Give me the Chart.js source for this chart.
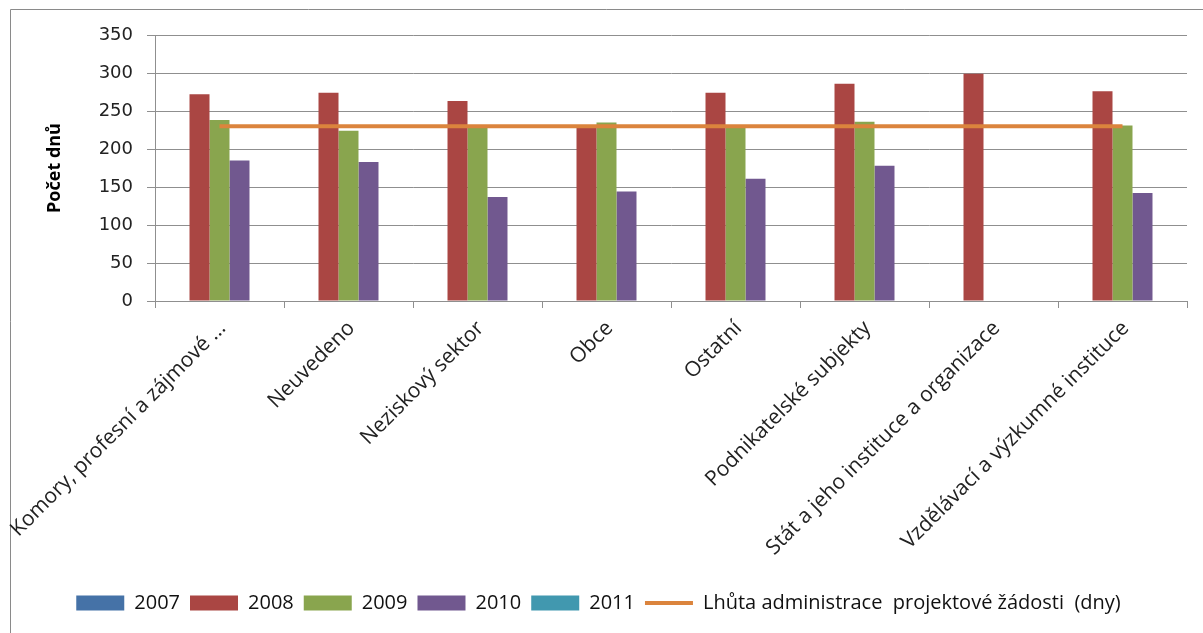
<!DOCTYPE html>
<html>
<head>
<meta charset="utf-8">
<script src="https://cdn.jsdelivr.net/npm/chart.js@4.4.1/dist/chart.umd.min.js"></script>
<style>
  html, body { margin: 0; padding: 0; background: #fff; }
  #wrap { position: relative; width: 1203px; height: 633px; }
</style>
</head>
<body>
<div id="wrap"><canvas id="chart" width="1203" height="633"></canvas></div>
<script>
const categories = [
  "Komory, profesní a zájmové ...",
  "Neuvedeno",
  "Neziskový sektor",
  "Obce",
  "Ostatní",
  "Podnikatelské subjekty",
  "Stát a jeho instituce a organizace",
  "Vzdělávací a výzkumné instituce"
];
const years = ["2007", "2008", "2009", "2010", "2011"];
const values2007 = [null, null, null, null, null, null, null, null];
const values2008 = [272, 274, 263, 229, 274, 286, 299, 276];
const values2009 = [238, 224, 229, 235, 228, 236, null, 231];
const values2010 = [185, 183, 137, 144, 161, 178, null, 142];
const values2011 = [null, null, null, null, null, null, null, null];
const deadlineLabel = "Lhůta administrace  projektové žádosti  (dny)";
const deadline = [230, 230, 230, 230, 230, 230, 230, 230];
const yTicks = [0, 50, 100, 150, 200, 250, 300, 350];

const barColors = ["#4572A7", "#AA4643", "#89A54E", "#71588F", "#4198AF"];
const barValues = [values2007, values2008, values2009, values2010, values2011];
const gridColor = "#8f8f8f";

// gray frame of the chart object (top and left edges visible)
const framePlugin = {
  id: "frame",
  beforeDraw(chart) {
    const ctx = chart.ctx;
    ctx.save();
    ctx.strokeStyle = "#8a8a8a";
    ctx.lineWidth = 1;
    ctx.beginPath();
    ctx.moveTo(10.5, chart.height);
    ctx.lineTo(10.5, 9.5);
    ctx.lineTo(chart.width, 9.5);
    ctx.stroke();
    ctx.restore();
  }
};

const datasets = years.map((y, i) => ({
  type: "bar",
  label: y,
  data: barValues[i],
  backgroundColor: barColors[i],
  borderWidth: 0,
  pointStyle: "rect",
  order: 1
}));
datasets.push({
  type: "line",
  label: deadlineLabel,
  data: deadline,
  borderColor: "#DB843D",
  backgroundColor: "#DB843D",
  borderWidth: 4,
  pointRadius: 0,
  pointStyle: "line",
  fill: false,
  tension: 0,
  order: 0
});

new Chart(document.getElementById("chart").getContext("2d"), {
  data: { labels: categories, datasets: datasets },
  plugins: [framePlugin],
  options: {
    responsive: false,
    animation: false,
    layout: { padding: { top: 35, right: 16, left: 10, bottom: 10 } },
    datasets: {
      bar: { categoryPercentage: 0.775, barPercentage: 1 }
    },
    scales: {
      x: {
        offset: true,
        grid: { drawOnChartArea: false, drawTicks: true, tickLength: 7, color: gridColor, offset: true },
        border: { color: gridColor },
        ticks: {
          maxRotation: 45,
          minRotation: 45,
          autoSkip: false,
          padding: 8,
          labelOffset: 3,
          color: "#222",
          font: { family: "Open Sans", size: 21 }
        },
        afterFit(scale) {
          scale.height = 282;
          scale.paddingLeft = 0;
          scale.paddingRight = 0;
        }
      },
      y: {
        min: 0,
        max: 350,
        afterBuildTicks(scale) {
          scale.ticks = yTicks.map(v => ({ value: v }));
        },
        grid: { color: gridColor, tickLength: 8 },
        border: { color: gridColor },
        ticks: {
          padding: 14,
          color: "#222",
          font: { family: "DejaVu Sans", size: 18 }
        },
        title: {
          display: true,
          text: "Počet dnů",
          color: "#000",
          font: { family: "Open Sans", size: 18, weight: "bold" },
          padding: { top: 34, bottom: 0 }
        },
        afterFit(scale) {
          scale.width = 145;
        }
      }
    },
    plugins: {
      legend: {
        position: "bottom",
        labels: {
          usePointStyle: true,
          pointStyleWidth: 48,
          boxHeight: 15,
          padding: 10,
          color: "#111",
          font: { family: "Open Sans", size: 20 },
          sort: (a, b) => a.datasetIndex - b.datasetIndex
        }
      },
      tooltip: { enabled: false }
    }
  }
});
</script>
</body>
</html>
